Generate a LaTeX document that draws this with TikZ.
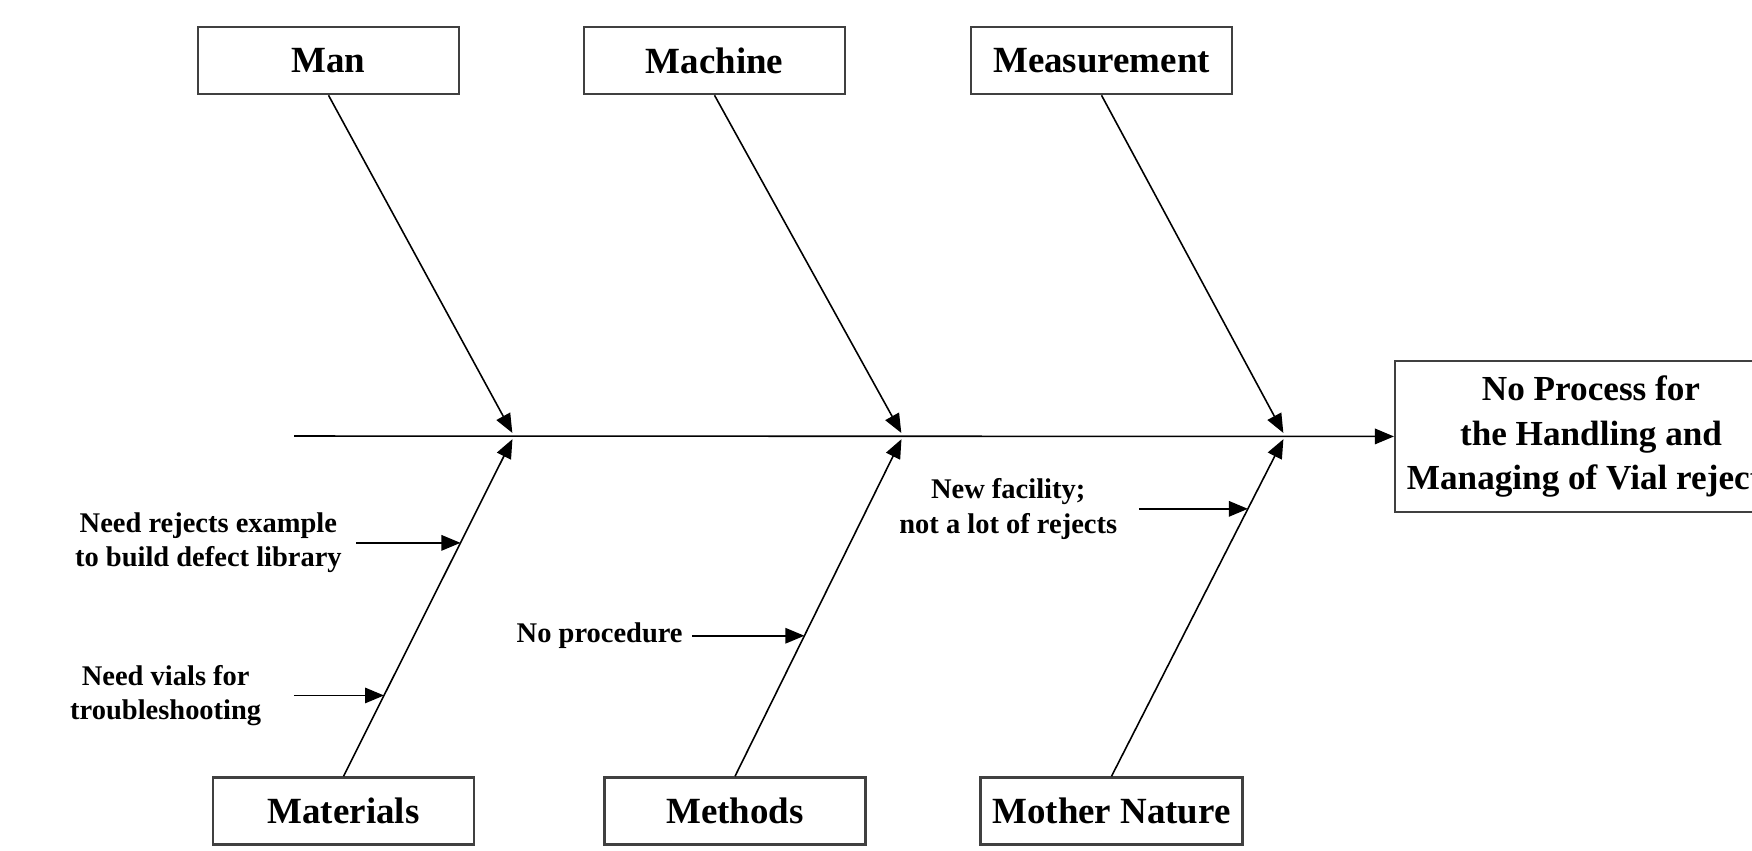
\documentclass[tikz,border=0pt]{standalone}
\usepackage{fontspec}
\setmainfont{Liberation Serif}
\usetikzlibrary{arrows.meta,
                positioning,
                calc}
\tikzstyle{arrow} = [line width=0.45pt,->,>={Triangle[length=5.4pt,width=4.4pt]}]
\tikzstyle{cause} = [draw=black!75, line width=0.7pt, minimum width=2.61cm, minimum height=0.67cm,
                     font=\fontsize{10.5}{12}\selectfont\bfseries]
\tikzstyle{sub} = [align=center, inner ysep=1pt, font=\fontsize{8.1}{9.8}\selectfont\bfseries]

\begin{document}
\begin{tikzpicture}[x=0.01cm, y=-0.01cm]
    \path[use as bounding box, clip] (0,0) rectangle (1752,850);

    % head of the fish
    \node[draw=black!75, line width=0.7pt, minimum width=3.9cm, minimum height=1.51cm, align=center,
          font=\fontsize{10}{12.7}\selectfont\bfseries] (effect) at (1591,436.5)
          {No Process for\\the Handling and\\Managing of Vial rejects};
    \coordinate (tail) at (294,436);
    \draw [arrow] (tail) -- (effect);

    % the six causes
    \node[cause] (man)       at (328.5,60.5) {Man};
    \node[cause] (machine)   at (714.5,60.5) {Machine};
    \node[cause] (measure)   at (1101.5,60.5) {Measurement};
    \node[cause] (materials) at (343.5,811) {Materials};
    \node[cause] (methods)   at (735,811) {Methods};
    \node[cause] (nature)    at (1111.5,811) {Mother Nature};

    \coordinate (j1) at (514,436);
    \coordinate (j2) at (903,436);
    \coordinate (j3) at (1285,436);

    \draw [arrow, shorten >=1pt] (man.south) -- (j1);
    \draw [arrow, shorten >=1pt] (machine.south) -- (j2);
    \draw [arrow, shorten >=1pt] (measure.south) -- (j3);
    \draw [arrow, shorten >=1pt] (materials.north) -- (j1);
    \draw [arrow, shorten >=1pt] (methods.north) -- (j2);
    \draw [arrow, shorten >=1pt] (nature.north) -- (j3);

    % sub causes on the bones
    \coordinate (b1) at ($(materials.north)!0.686!(j1)$);
    \coordinate (b2) at ($(materials.north)!0.2375!(j1)$);
    \coordinate (b3) at ($(methods.north)!0.413!(j2)$);
    \coordinate (b4) at ($(nature.north)!0.786!(j3)$);

    \node[sub, inner xsep=0.14cm] (rejects)[left=1.04cm of b1] {Need rejects example\\to build defect library};
    \node[sub, inner xsep=0.32cm] (vials)[left=0.90cm of b2] {Need vials for\\troubleshooting};
    \node[sub, inner xsep=0.09cm] (noproc)[left=1.12cm of b3] {No procedure};
    \node[sub, inner xsep=0.21cm] (facility)[left=1.09cm of b4] {New facility;\\not a lot of rejects};

    \draw [arrow] (rejects) -- (b1);
    \draw [arrow] (vials) -- (b2);
    \draw [arrow] (noproc) -- (b3);
    \draw [arrow] (facility) -- (b4);
\end{tikzpicture}
\end{document}
